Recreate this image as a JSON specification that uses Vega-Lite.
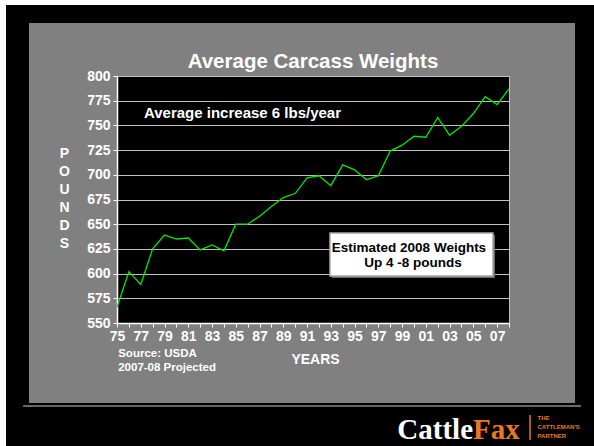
{
  "$schema": "https://vega.github.io/schema/vega-lite/v6.json",
  "width": 392,
  "height": 247,
  "autosize": {"type": "none"},
  "padding": {"left": 117, "top": 76, "right": 85, "bottom": 123},
  "background": "#808080",
  "title": {"text": "Average Carcass Weights", "font": "Liberation Sans", "fontSize": 20.5, "fontWeight": "bold", "color": "white", "anchor": "middle", "offset": 0, "baseline": "alphabetic", "dy": 88},
  "config": {
    "view": {"fill": "black", "stroke": "#c0c0c0", "strokeWidth": 1},
    "font": "Liberation Sans",
    "axis": {"labelOverlap": false}
  },
  "resolve": {"axis": {"x": "independent", "y": "independent"}},
  "data": {"values": [{}]},
  "layer": [
    {
      "data": {"values": [
        {"year": 1975, "weight": 566}, {"year": 1976, "weight": 602}, {"year": 1977, "weight": 589},
        {"year": 1978, "weight": 625}, {"year": 1979, "weight": 639}, {"year": 1980, "weight": 635},
        {"year": 1981, "weight": 636}, {"year": 1982, "weight": 624}, {"year": 1983, "weight": 629},
        {"year": 1984, "weight": 623}, {"year": 1985, "weight": 650}, {"year": 1986, "weight": 650},
        {"year": 1987, "weight": 658}, {"year": 1988, "weight": 668}, {"year": 1989, "weight": 677},
        {"year": 1990, "weight": 681}, {"year": 1991, "weight": 697}, {"year": 1992, "weight": 699},
        {"year": 1993, "weight": 689}, {"year": 1994, "weight": 710}, {"year": 1995, "weight": 705},
        {"year": 1996, "weight": 695}, {"year": 1997, "weight": 699}, {"year": 1998, "weight": 724},
        {"year": 1999, "weight": 730}, {"year": 2000, "weight": 739}, {"year": 2001, "weight": 738},
        {"year": 2002, "weight": 758}, {"year": 2003, "weight": 740}, {"year": 2004, "weight": 749},
        {"year": 2005, "weight": 762}, {"year": 2006, "weight": 779}, {"year": 2007, "weight": 771},
        {"year": 2008, "weight": 787}
      ]},
      "mark": {"type": "line", "color": "#00e600", "strokeWidth": 1.3},
      "encoding": {
        "x": {"field": "year", "type": "quantitative",
              "scale": {"domain": [1975, 2008], "nice": false, "zero": false},
              "axis": {"orient": "bottom", "title": "YEARS", "values": [1975,1976,1977,1978,1979,1980,1981,1982,1983,1984,1985,1986,1987,1988,1989,1990,1991,1992,1993,1994,1995,1996,1997,1998,1999,2000,2001,2002,2003,2004,2005,2006,2007,2008],
                       "labelExpr": "datum.value % 2 == 1 ? substring(toString(datum.value), 2, 4) : ''",
                       "labelFlush": false, "labelOverlap": false, "labelFont": "Liberation Sans", "labelFontSize": 14, "labelFontWeight": "bold", "labelColor": "white", "labelPadding": 2,
                       "tickColor": "white", "tickSize": 4, "domainColor": "white", "domainWidth": 1.5, "grid": false,
                       "titleFont": "Liberation Sans", "titleFontSize": 14, "titleFontWeight": "bold", "titleColor": "white", "titlePadding": 9, "titleX": 198}},
        "y": {"field": "weight", "type": "quantitative",
              "scale": {"domain": [550, 800], "nice": false, "zero": false},
              "axis": {"orient": "left", "title": ["P", "O", "U", "N", "D", "S"], "values": [550,575,600,625,650,675,700,725,750,775,800],
                       "labelOverlap": false, "labelFont": "Liberation Sans", "labelFontSize": 14, "labelFontWeight": "bold", "labelColor": "white", "labelPadding": 3,
                       "tickColor": "white", "tickSize": 4, "domainColor": "white", "domainWidth": 1.5,
                       "grid": true, "gridColor": "#c0c0c0", "gridWidth": 1,
                       "titleAngle": 0, "titleAlign": "center", "titleBaseline": "top", "titleX": -53, "titleY": 70, "titleLineHeight": 18,
                       "titleFont": "Liberation Sans", "titleFontSize": 14, "titleFontWeight": "bold", "titleColor": "white"}}
      }
    },
    {"mark": {"type": "rect", "color": "white", "clip": false},
     "encoding": {"x": {"datum": 1960, "type": "quantitative", "axis": null}, "x2": {"datum": 1965.656}, "y": {"datum": 876.92, "type": "quantitative", "axis": null}, "y2": {"datum": 300}}},
    {"mark": {"type": "rect", "color": "white", "clip": false},
     "encoding": {"x": {"datum": 1960, "type": "quantitative", "axis": null}, "x2": {"datum": 2030}, "y": {"datum": 876.92, "type": "quantitative", "axis": null}, "y2": {"datum": 871.86}}},
    {"mark": {"type": "rect", "color": "black", "clip": false},
     "encoding": {"x": {"datum": 1965.656, "type": "quantitative", "axis": null}, "x2": {"datum": 2030}, "y": {"datum": 871.86, "type": "quantitative", "axis": null}, "y2": {"datum": 853.64}}},
    {"mark": {"type": "rect", "color": "black", "clip": false},
     "encoding": {"x": {"datum": 1965.656, "type": "quantitative", "axis": null}, "x2": {"datum": 2030}, "y": {"datum": 469.03, "type": "quantitative", "axis": null}, "y2": {"datum": 300}}},
    {"mark": {"type": "rect", "color": "black", "clip": false},
     "encoding": {"x": {"datum": 1965.656, "type": "quantitative", "axis": null}, "x2": {"datum": 1967.59}, "y": {"datum": 871.86, "type": "quantitative", "axis": null}, "y2": {"datum": 300}}},
    {"mark": {"type": "rect", "color": "black", "clip": false},
     "encoding": {"x": {"datum": 2013.56, "type": "quantitative", "axis": null}, "x2": {"datum": 2030}, "y": {"datum": 871.86, "type": "quantitative", "axis": null}, "y2": {"datum": 300}}},
    {"mark": {"type": "rule", "color": "#8c8c8c", "strokeWidth": 1.5, "clip": false},
     "encoding": {"x": {"datum": 1967.09, "type": "quantitative", "axis": null}, "x2": {"datum": 2014.06}, "y": {"datum": 466.0, "type": "quantitative", "axis": null}}},
    {"mark": {"type": "text", "text": "Cattle", "font": "Liberation Serif", "fontWeight": "bold", "fontSize": 29, "color": "white", "align": "right", "baseline": "alphabetic", "clip": false},
     "encoding": {"x": {"datum": 2004.97, "type": "quantitative", "axis": null}, "y": {"datum": 433.0, "type": "quantitative", "axis": null}}},
    {"mark": {"type": "text", "text": "Fax", "font": "Liberation Serif", "fontWeight": "bold", "fontSize": 29, "color": "#e87a1e", "align": "left", "baseline": "alphabetic", "clip": false},
     "encoding": {"x": {"datum": 2004.97, "type": "quantitative", "axis": null}, "y": {"datum": 433.0, "type": "quantitative", "axis": null}}},
    {"mark": {"type": "rule", "color": "#e87a1e", "strokeWidth": 1.5, "clip": false},
     "encoding": {"x": {"datum": 2009.77, "type": "quantitative", "axis": null}, "y": {"datum": 456.9, "type": "quantitative", "axis": null}, "y2": {"datum": 431.6}}},
    {"mark": {"type": "text", "text": ["THE", "CATTLEMAN'S", "PARTNER"], "lineHeight": 9, "fontWeight": "bold", "fontSize": 6, "color": "#e87a1e", "align": "left", "baseline": "middle", "clip": false},
     "encoding": {"x": {"datum": 2010.4, "type": "quantitative", "axis": null}, "y": {"datum": 453.85, "type": "quantitative", "axis": null}}},
    {"mark": {"type": "text", "text": ["Source: USDA", "2007-08 Projected"], "lineHeight": 14, "fontWeight": "bold", "fontSize": 11.5, "color": "white", "align": "left", "baseline": "middle", "clip": false},
     "encoding": {"x": {"datum": 1975.1, "type": "quantitative", "axis": null}, "y": {"datum": 518.3, "type": "quantitative", "axis": null}}},
    {"mark": {"type": "text", "text": "Average increase 6 lbs/year", "fontWeight": "bold", "fontSize": 15, "color": "white", "align": "left", "baseline": "middle"},
     "encoding": {"x": {"datum": 1977.27, "type": "quantitative", "axis": null}, "y": {"datum": 762.5, "type": "quantitative", "axis": null}}},
    {"mark": {"type": "rect", "color": "#6a6a6a"},
     "encoding": {"x": {"datum": 1993.1, "type": "quantitative", "axis": null}, "x2": {"datum": 2006.82}, "y": {"datum": 639.1, "type": "quantitative", "axis": null}, "y2": {"datum": 595.6}}},
    {"mark": {"type": "rect", "fill": "white", "stroke": "#a8a8a8", "strokeWidth": 1.5},
     "encoding": {"x": {"datum": 1992.93, "type": "quantitative", "axis": null}, "x2": {"datum": 2006.65}, "y": {"datum": 641.1, "type": "quantitative", "axis": null}, "y2": {"datum": 597.6}}},
    {"mark": {"type": "text", "text": "Estimated 2008 Weights", "fontWeight": "bold", "fontSize": 13.5, "color": "black", "align": "center", "baseline": "middle"},
     "encoding": {"x": {"datum": 1999.58, "type": "quantitative", "axis": null}, "y": {"datum": 625.9, "type": "quantitative", "axis": null}}},
    {"mark": {"type": "text", "text": "Up 4 -8 pounds", "fontWeight": "bold", "fontSize": 13.5, "color": "black", "align": "center", "baseline": "middle"},
     "encoding": {"x": {"datum": 1999.92, "type": "quantitative", "axis": null}, "y": {"datum": 610.7, "type": "quantitative", "axis": null}}}
  ]
}
